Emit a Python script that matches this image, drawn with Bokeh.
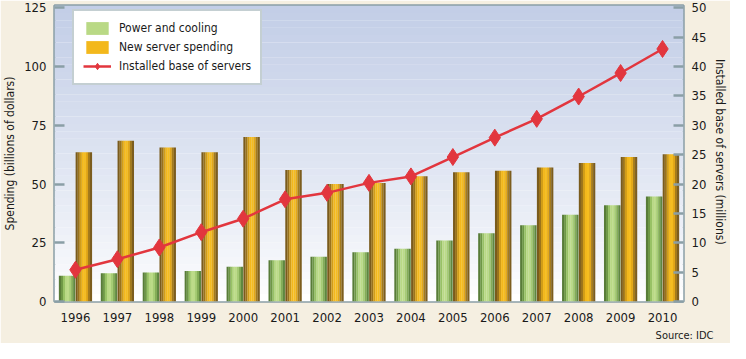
from bokeh.plotting import figure
from bokeh.models import (Range1d, LinearAxis, FixedTicker, ColumnDataSource, Legend,
                          LegendItem, BoxAnnotation, Title)
from bokeh.transform import dodge
from bokeh.embed import file_html
from bokeh.resources import INLINE

years = [str(y) for y in range(1996, 2011)]
power_cooling = [11, 12, 12.3, 13, 14.8, 17.6, 19, 21, 22.5, 26, 29, 32.5, 36.9, 41, 44.7]
new_server = [63.5, 68.4, 65.6, 63.5, 70, 56, 50, 50.4, 53.3, 55, 55.7, 57, 59, 61.5, 62.7]
installed_base = [5.4, 7.2, 9.2, 11.8, 14.1, 17.4, 18.5, 20.2, 21.3, 24.6, 27.9, 31.1, 34.9, 38.9, 43]

left_ticks = [0, 25, 50, 75, 100, 125]
right_ticks = [0, 5, 10, 15, 20, 25, 30, 35, 40, 45, 50]

FONT = "DejaVu Sans Condensed"
FRAME = "#8a9fa6"

src = ColumnDataSource(dict(year=years, pc=power_cooling, ns=new_server, ib=installed_base))

p = figure(x_range=years, y_range=Range1d(0, 126), width=730, height=343,
           output_backend="svg", toolbar_location=None,
           min_border_left=42, min_border_right=42, min_border_top=5, min_border_bottom=30)
p.x_range.range_padding = 0
p.extra_y_ranges = {"servers": Range1d(0, 50.4)}
p.border_fill_color = "#f5efe1"
p.background_fill_color = "#ffffff"
p.outline_line_color = FRAME
p.outline_line_width = 2.5
p.xgrid.visible = False
p.ygrid.visible = False

# plot-area vertical gradient (style only)
top_c = (0xc3, 0xce, 0xe7)
bot_c = (0xff, 0xff, 0xff)
nb = 40
for i in range(nb):
    t = i / (nb - 1)
    c = tuple(int(bot_c[k] + (top_c[k] - bot_c[k]) * t ** 0.85) for k in range(3))
    p.add_layout(BoxAnnotation(bottom=126 * i / nb, top=126 * (i + 1) / nb + 0.05,
                               fill_color="#%02x%02x%02x" % c, fill_alpha=1,
                               line_color=None, level="underlay"))

# cylinder-shaded bars drawn as strips
green_strips = ["#587c38", "#6e9846", "#98c265", "#b9d985", "#bcdb88", "#a6cc74", "#84ad57", "#5f8740"]
gold_strips = ["#7a5b1c", "#9a731c", "#d19d18", "#f3b81c", "#f5bd20", "#e3a818", "#a47b1c", "#7c5d1e"]
bw = 0.39
ns_ = len(green_strips)
sw = bw / ns_
green_r = []
gold_r = []
for j, col in enumerate(green_strips):
    off = -0.2 - bw / 2 + sw * (j + 0.5)
    r = p.vbar(x=dodge("year", off, range=p.x_range), top="pc", width=sw * 1.05, bottom=0,
               source=src, fill_color=col, line_color=None)
    green_r.append(r)
for j, col in enumerate(gold_strips):
    off = 0.2 - bw / 2 + sw * (j + 0.5)
    r = p.vbar(x=dodge("year", off, range=p.x_range), top="ns", width=sw * 1.05, bottom=0,
               source=src, fill_color=col, line_color=None)
    gold_r.append(r)

line_r = p.line(x="year", y="ib", source=src, y_range_name="servers",
                line_color="#e2363e", line_width=2.5)
pt_r = p.scatter(x="year", y="ib", source=src, y_range_name="servers", marker="diamond",
                 size=17, fill_color="#e2363e", line_color="#e2363e")

# axes
p.yaxis[0].ticker = FixedTicker(ticks=left_ticks)
p.yaxis[0].axis_label = "Spending (billions of dollars)"
p.yaxis.axis_line_color = None
p.yaxis.major_tick_in = 10
p.yaxis.major_tick_out = 0
p.yaxis.minor_tick_line_color = None
p.yaxis.major_tick_line_color = FRAME
p.yaxis.major_tick_line_width = 2.5

right = LinearAxis(y_range_name="servers", ticker=FixedTicker(ticks=right_ticks),
                   axis_label="Installed base of servers  (millions)")
right.axis_line_color = None
right.major_tick_in = 10
right.major_tick_out = 0
right.minor_tick_line_color = None
right.major_tick_line_color = FRAME
right.major_tick_line_width = 2.5
p.add_layout(right, "right")

p.xaxis.axis_line_color = None
p.xaxis.major_tick_line_color = None
p.xaxis.minor_tick_line_color = None
p.xaxis.major_label_standoff = 5

for ax in p.axis:
    ax.major_label_text_font = FONT
    ax.major_label_text_font_size = "13px"
    ax.major_label_text_color = "#1a1a1a"
    ax.axis_label_text_font = FONT
    ax.axis_label_text_font_size = "12px"
    ax.axis_label_text_font_style = "normal"
    ax.axis_label_text_color = "#1a1a1a"
p.yaxis.major_label_standoff = 8
p.yaxis.axis_label_standoff = 4

legend = Legend(items=[
    LegendItem(label="Power and cooling", renderers=[green_r[3]]),
    LegendItem(label="New server spending", renderers=[gold_r[3]]),
    LegendItem(label="Installed base of servers", renderers=[line_r, pt_r]),
], location=(18, 216))
legend.label_text_font = FONT
legend.label_text_font_size = "12px"
legend.label_text_color = "#1a1a1a"
legend.glyph_width = 28
legend.glyph_height = 16
legend.spacing = 3
legend.padding = 9
legend.label_standoff = 8
legend.label_height = 16
legend.margin = 0
legend.border_line_color = FRAME
legend.border_line_width = 2.5
legend.background_fill_color = "#ffffff"
legend.background_fill_alpha = 1
p.add_layout(legend)

source_title = Title(text="Source: IDC", align="right", offset=-30, standoff=4,
                     text_font=FONT, text_font_size="11px", text_font_style="normal",
                     text_color="#1a1a1a")
p.add_layout(source_title, "below")

open("out.html", "w").write(file_html(p, INLINE))
